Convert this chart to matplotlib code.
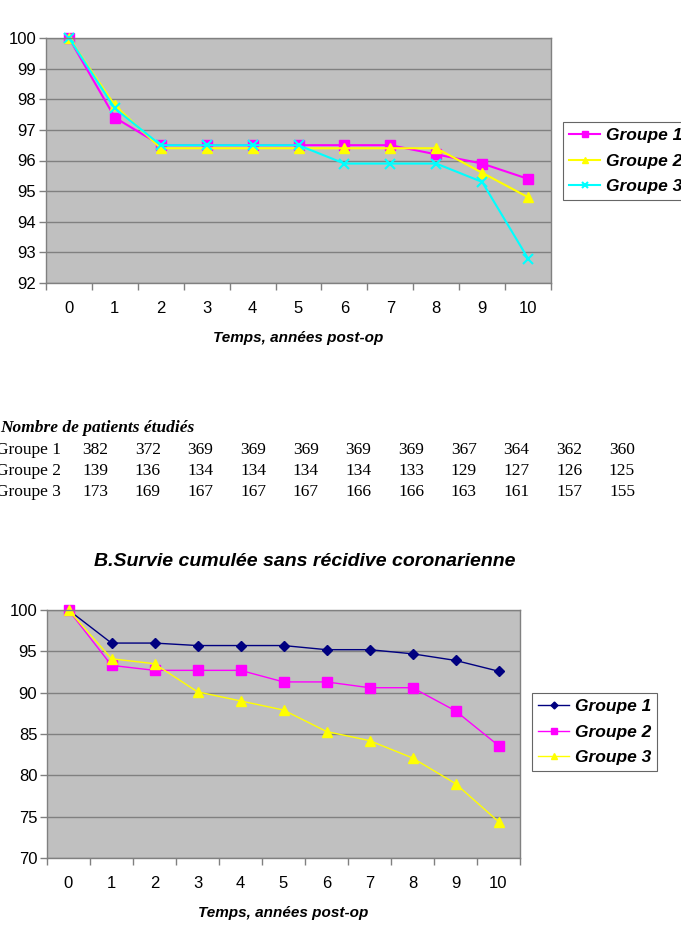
import numpy as np
import matplotlib.pyplot as plt
from matplotlib.ticker import FixedLocator

# chart A: survie, 3 groupes
years = list(range(11))
a_g1 = [100, 97.4, 96.5, 96.5, 96.5, 96.5, 96.5, 96.5, 96.2, 95.9, 95.4]
a_g2 = [100, 97.8, 96.4, 96.4, 96.4, 96.4, 96.4, 96.4, 96.4, 95.6, 94.8]
a_g3 = [100, 97.7, 96.5, 96.5, 96.5, 96.5, 95.9, 95.9, 95.9, 95.3, 92.8]

# chart B: survie sans recidive coronarienne
b_g1 = [100, 96.0, 96.0, 95.7, 95.7, 95.7, 95.2, 95.2, 94.7, 93.9, 92.6]
b_g2 = [100, 93.3, 92.7, 92.7, 92.7, 91.3, 91.3, 90.6, 90.6, 87.8, 83.6]
b_g3 = [100, 94.1, 93.5, 90.1, 89.0, 87.9, 85.3, 84.2, 82.1, 79.0, 74.4]

# nombre de patients
groups = ['Groupe 1', 'Groupe 2', 'Groupe 3']
n_g1 = [382, 372, 369, 369, 369, 369, 369, 367, 364, 362, 360]
n_g2 = [139, 136, 134, 134, 134, 134, 133, 129, 127, 126, 125]
n_g3 = [173, 169, 167, 167, 167, 166, 166, 163, 161, 157, 155]

W, H = 681, 935
fig = plt.figure(figsize=(W / 100, H / 100), dpi=100)


def box(l, t, r, b):
    return [l / W, 1 - b / H, (r - l) / W, (b - t) / H]


def style_axes(ax, ymin, ymax, ystep):
    ax.set_facecolor('#c0c0c0')
    ax.set_xlim(-0.5, 10.5)
    ax.set_ylim(ymin, ymax)
    ax.set_yticks(np.arange(ymin, ymax + 0.1, ystep))
    ax.set_xticks(years)
    ax.xaxis.set_minor_locator(FixedLocator(np.arange(-0.5, 11, 1)))
    ax.tick_params(axis='x', which='major', length=0, pad=13, labelsize=12)
    ax.tick_params(axis='x', which='minor', length=5, color='#808080', width=1)
    ax.tick_params(axis='y', length=5, color='#808080', width=1, labelsize=12, pad=2)
    ax.grid(axis='y', color='#808080', linewidth=1)
    ax.set_axisbelow(True)
    for s in ax.spines.values():
        s.set_color('#808080')
        s.set_linewidth(1)
    for lab in ax.get_xticklabels() + ax.get_yticklabels():
        lab.set_family('Liberation Sans')


leg_kw = dict(loc='upper left', frameon=True, fancybox=False, edgecolor='#404040',
              borderpad=0.35, borderaxespad=0, handlelength=1.8, handletextpad=0.3,
              labelspacing=0.6, markerscale=0.7,
              prop={'family': 'Liberation Sans', 'weight': 'bold', 'style': 'italic', 'size': 12.5})

# --- chart A
ax1 = fig.add_axes(box(46, 38, 551, 283))
ax1.plot(years, a_g1, color='#ff00ff', marker='s', ms=7, lw=1.5, label='Groupe 1', clip_on=False)
ax1.plot(years, a_g2, color='#ffff00', marker='^', ms=7, lw=1.5, label='Groupe 2', clip_on=False)
ax1.plot(years, a_g3, color='#00ffff', marker='x', ms=7, mew=1.5, lw=1.5, label='Groupe 3', clip_on=False)
style_axes(ax1, 92, 100, 1)
leg1 = ax1.legend(bbox_to_anchor=((563 - 46) / 505, (283 - 122) / 245), **leg_kw)
leg1.get_frame().set_linewidth(0.8)
fig.text(298 / W, 1 - 338 / H, 'Temps, années post-op', ha='center', va='center',
         family='Liberation Sans', weight='bold', style='italic', fontsize=11)

# --- table
fig.text(0, 1 - 428 / H, 'Nombre de patients étudiés', ha='left', va='center',
         family='Liberation Serif', weight='bold', style='italic', fontsize=12.5)
col_x = [95 + 52.7 * i for i in range(11)]
for row, (name, vals) in enumerate(zip(groups, [n_g1, n_g2, n_g3])):
    y = 1 - (450 + 21 * row) / H
    fig.text(-4 / W, y, name, ha='left', va='center', family='Liberation Serif', fontsize=12.5)
    for x, v in zip(col_x, vals):
        fig.text(x / W, y, str(v), ha='center', va='center', family='Liberation Serif', fontsize=12.5)

# --- chart B
fig.text(305 / W, 1 - 562 / H, 'B.Survie cumulée sans récidive coronarienne', ha='center', va='center',
         family='Liberation Sans', weight='bold', style='italic', fontsize=14)
ax2 = fig.add_axes(box(47, 610, 520, 858))
ax2.plot(years, b_g1, color='#000080', marker='D', ms=5, lw=1, label='Groupe 1', clip_on=False)
ax2.plot(years, b_g2, color='#ff00ff', marker='s', ms=7, lw=1, label='Groupe 2', clip_on=False)
ax2.plot(years, b_g3, color='#ffff00', marker='^', ms=7, lw=1, label='Groupe 3', clip_on=False)
style_axes(ax2, 70, 100, 5)
leg2 = ax2.legend(bbox_to_anchor=((532 - 47) / 473, (858 - 693) / 248), **leg_kw)
leg2.get_frame().set_linewidth(0.8)
fig.text(283 / W, 1 - 913 / H, 'Temps, années post-op', ha='center', va='center',
         family='Liberation Sans', weight='bold', style='italic', fontsize=11)

fig.savefig('out.png', dpi=100)
